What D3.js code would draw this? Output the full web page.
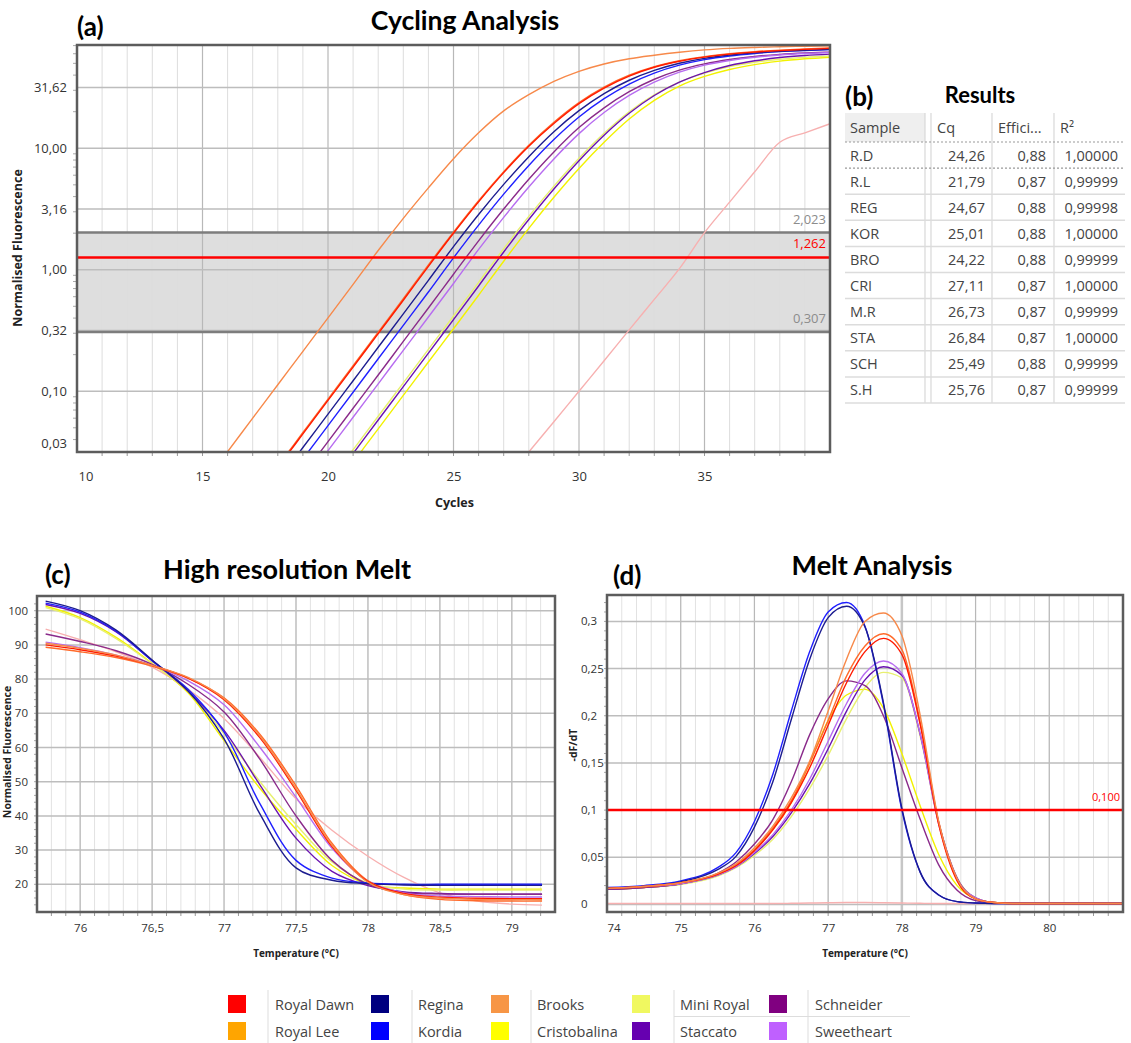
<!DOCTYPE html>
<html>
<head>
<meta charset="utf-8">
<script src="https://cdn.jsdelivr.net/npm/d3@7"></script>
<style>
  body { margin: 0; background: #fff; }
  text { font-family: "Open Sans", "Noto Sans", sans-serif; fill: #333; }
  .title { font-family: Lato, "Open Sans", sans-serif; font-weight: bold; fill: #000; }
  .axis-title { font-weight: bold; fill: #222; }
</style>
</head>
<body>
<svg id="fig" width="1131" height="1043"></svg>
<script>
// ---------- data: samples & results table (b) ----------
const samples = ["R.D", "R.L", "REG", "KOR", "BRO", "CRI", "M.R", "STA", "SCH", "S.H"];
const cqValues = ["24,26", "21,79", "24,67", "25,01", "24,22", "27,11", "26,73", "26,84", "25,49", "25,76"];
const efficiencies = ["0,88", "0,87", "0,88", "0,88", "0,88", "0,87", "0,87", "0,87", "0,88", "0,87"];
const rSquared = ["1,00000", "0,99999", "0,99998", "1,00000", "0,99999", "1,00000", "0,99999", "1,00000", "0,99999", "0,99999"];
const tableHeaders = ["Sample", "Cq", "Effici...", "R\u00b2"];
// line colours: 10 samples + no-template control
const lineColors = ["#ff1a00", "#f7894a", "#1c1c8f", "#1f1fff", "#ff6a2a", "#f2f200", "#e8f070", "#6a12b0", "#8a2a8a", "#b76cf0", "#f7b0b0"];

// ---------- data: cycling analysis (a) ----------
const cycleNumbers = [15, 16, 17, 18, 19, 20, 21, 22, 23, 24, 25, 26, 27, 28, 29, 30, 31, 32, 33, 34, 35, 36, 37, 38, 39, 40];
const ampRD  = [0.0035, 0.0067, 0.0126, 0.0236, 0.0445, 0.084, 0.158, 0.298, 0.561, 1.067, 1.995, 3.62, 6.3, 10.4, 16.0, 23.3, 31.3, 39.3, 46.4, 52.0, 56.3, 59.5, 61.9, 63.7, 65.2, 66.4];
const ampRL  = [0.0169, 0.0318, 0.060, 0.113, 0.213, 0.401, 0.757, 1.44, 2.65, 4.72, 8.2, 13.4, 20.3, 27.6, 35.5, 43.0, 49.4, 54.5, 58.3, 61.7, 64.5, 66.4, 67.6, 68.5, 69.2, 69.8];
const ampREG = [0.0026, 0.005, 0.0096, 0.0182, 0.0344, 0.0647, 0.122, 0.230, 0.433, 0.818, 1.55, 2.85, 5.04, 8.53, 13.7, 20.4, 28.2, 36.3, 43.8, 50.1, 55.0, 58.5, 61.0, 62.8, 64.1, 65.2];
const ampKOR = [0.0022, 0.0042, 0.0079, 0.0148, 0.0277, 0.0521, 0.098, 0.185, 0.348, 0.656, 1.253, 2.33, 4.19, 7.21, 11.8, 18.1, 25.6, 33.8, 41.6, 48.3, 53.6, 57.5, 60.3, 62.4, 63.8, 64.9];
const ampBRO = [0.0036, 0.0069, 0.013, 0.0242, 0.0457, 0.0862, 0.162, 0.306, 0.577, 1.096, 2.04, 3.70, 6.42, 10.6, 16.4, 23.8, 31.9, 39.9, 46.9, 52.5, 56.8, 60.0, 62.4, 64.2, 65.6, 66.8];
const ampCRI = [0.0006, 0.0011, 0.0021, 0.0039, 0.0073, 0.0138, 0.026, 0.049, 0.0923, 0.174, 0.327, 0.617, 1.175, 2.19, 3.95, 6.82, 11.2, 17.4, 24.8, 32.5, 39.0, 44.5, 48.8, 52.2, 54.5, 56.2];
const ampMR  = [0.0007, 0.0014, 0.0026, 0.0049, 0.0093, 0.0175, 0.033, 0.0622, 0.117, 0.221, 0.416, 0.787, 1.49, 2.75, 4.88, 8.28, 13.3, 20.0, 27.5, 35.0, 41.5, 47.0, 51.0, 54.0, 56.0, 57.5];
const ampSTA = [0.0007, 0.0013, 0.0024, 0.0046, 0.0087, 0.0163, 0.0307, 0.058, 0.109, 0.206, 0.388, 0.735, 1.40, 2.59, 4.62, 7.9, 12.8, 19.4, 27.2, 35.0, 42.0, 48.0, 52.5, 55.8, 58.0, 59.5];
const ampSCH = [0.0016, 0.003, 0.0057, 0.0108, 0.0204, 0.0385, 0.0724, 0.136, 0.257, 0.484, 0.918, 1.73, 3.16, 5.56, 9.33, 14.8, 21.5, 29.2, 37.0, 44.0, 49.5, 53.8, 57.0, 59.3, 60.8, 61.8];
const ampSH  = [0.0014, 0.0026, 0.0048, 0.0091, 0.0172, 0.0324, 0.0611, 0.115, 0.217, 0.408, 0.771, 1.47, 2.70, 4.80, 8.17, 13.2, 19.7, 27.2, 35.0, 42.3, 48.3, 52.8, 56.2, 58.6, 60.2, 61.3];
const ampNTC = [0.0003, 0.0003, 0.0003, 0.0003, 0.0003, 0.0003, 0.0003, 0.001, 0.0018, 0.0032, 0.0056, 0.010, 0.0178, 0.0316, 0.056, 0.100, 0.178, 0.32, 0.57, 1.02, 2.02, 3.6, 6.4, 11.2, 13.4, 15.9];
const cycleTicks = [10, 15, 20, 25, 30, 35];
const fluorTicks = [31.62, 10, 3.162, 1, 0.3162, 0.1, 0.0316];
const fluorTickLabels = ["31,62", "10,00", "3,16", "1,00", "0,32", "0,10", "0,03"];
const bandLimits = [0.307, 2.023];
const bandLabels = ["0,307", "2,023"];
const threshold = 1.262;
const thresholdLabel = "1,262";

// ---------- data: high resolution melt (c) ----------
const hrmTemps = [75.76, 76, 76.25, 76.5, 76.75, 77, 77.25, 77.5, 77.75, 78, 78.25, 78.5, 78.75, 79, 79.21];
const hrmRD  = [90.0, 88.6, 86.7, 84.0, 80.3, 74.0, 62.8, 47.5, 31.0, 20.8, 17.3, 16.2, 15.9, 15.8, 15.8];
const hrmRL  = [90.5, 89.0, 87.0, 84.0, 80.5, 74.3, 63.3, 48.0, 31.5, 20.6, 17.0, 16.0, 15.6, 15.5, 15.5];
const hrmREG = [102.8, 100.0, 94.3, 85.6, 76.5, 62.5, 40.5, 24.8, 21.2, 20.2, 19.8, 19.7, 19.7, 19.7, 19.7];
const hrmKOR = [102.2, 99.6, 94.0, 85.4, 77.0, 64.5, 43.5, 27.0, 21.8, 20.4, 20.0, 20.0, 20.0, 20.0, 20.0];
const hrmBRO = [89.3, 88.0, 86.3, 83.8, 80.3, 74.5, 63.8, 48.8, 32.0, 21.0, 17.0, 15.6, 15.2, 15.1, 15.1];
const hrmCRI = [101.3, 98.0, 92.2, 84.6, 76.0, 62.0, 48.0, 36.1, 25.5, 20.0, 18.9, 18.6, 18.6, 18.6, 18.6];
const hrmMR  = [100.9, 97.6, 91.8, 84.5, 76.5, 64.0, 50.0, 37.5, 26.5, 20.3, 18.6, 18.3, 18.3, 18.3, 18.3];
const hrmSTA = [101.8, 99.2, 93.8, 85.4, 76.5, 65.0, 49.0, 33.5, 23.8, 19.6, 17.8, 17.3, 17.1, 17.1, 17.1];
const hrmSCH = [93.2, 91.0, 88.3, 84.3, 78.5, 70.4, 56.5, 40.0, 27.0, 20.0, 17.6, 17.2, 17.1, 17.1, 17.1];
const hrmSH  = [90.8, 89.2, 87.0, 84.0, 79.5, 72.5, 60.0, 45.5, 30.5, 21.0, 17.5, 16.6, 16.4, 16.3, 16.3];
const hrmNTC = [94.6, 91.5, 88.0, 83.5, 77.0, 68.5, 57.0, 45.0, 35.8, 28.2, 22.0, 17.5, 15.2, 14.2, 13.9];
const hrmTempTicks = [76, 76.5, 77, 77.5, 78, 78.5, 79];
const hrmTempLabels = ["76", "76,5", "77", "77,5", "78", "78,5", "79"];
const hrmFluorTicks = [100, 90, 80, 70, 60, 50, 40, 30, 20];

// ---------- data: melt analysis (d) ----------
const dfTemps = [74, 74.5, 75, 75.5, 75.75, 76, 76.25, 76.5, 76.75, 77, 77.25, 77.5, 77.75, 78, 78.25, 78.5, 78.75, 79, 79.25, 79.5, 80, 81];
const dfRD  = [0.017, 0.019, 0.023, 0.032, 0.041, 0.057, 0.079, 0.108, 0.145, 0.190, 0.235, 0.268, 0.282, 0.265, 0.190, 0.085, 0.025, 0.006, 0.002, 0.001, 0.001, 0.001];
const dfRL  = [0.017, 0.019, 0.023, 0.033, 0.043, 0.060, 0.083, 0.113, 0.152, 0.205, 0.260, 0.300, 0.309, 0.285, 0.200, 0.088, 0.027, 0.006, 0.002, 0.001, 0.001, 0.001];
const dfREG = [0.017, 0.019, 0.024, 0.037, 0.051, 0.082, 0.130, 0.196, 0.260, 0.304, 0.316, 0.294, 0.214, 0.102, 0.034, 0.010, 0.003, 0.0015, 0.001, 0.001, 0.001, 0.001];
const dfKOR = [0.018, 0.020, 0.025, 0.039, 0.055, 0.088, 0.138, 0.205, 0.268, 0.310, 0.320, 0.295, 0.212, 0.100, 0.034, 0.010, 0.003, 0.0015, 0.001, 0.001, 0.001, 0.001];
const dfBRO = [0.017, 0.019, 0.023, 0.032, 0.042, 0.058, 0.081, 0.110, 0.150, 0.195, 0.242, 0.274, 0.287, 0.270, 0.193, 0.087, 0.026, 0.006, 0.002, 0.001, 0.001, 0.001];
const dfCRI = [0.016, 0.018, 0.022, 0.031, 0.041, 0.058, 0.080, 0.108, 0.150, 0.195, 0.222, 0.228, 0.208, 0.160, 0.104, 0.053, 0.020, 0.006, 0.002, 0.001, 0.001, 0.001];
const dfMR  = [0.016, 0.018, 0.021, 0.030, 0.039, 0.052, 0.069, 0.093, 0.123, 0.158, 0.197, 0.230, 0.246, 0.240, 0.178, 0.086, 0.028, 0.007, 0.002, 0.001, 0.001, 0.001];
const dfSTA = [0.016, 0.018, 0.022, 0.031, 0.040, 0.054, 0.072, 0.097, 0.128, 0.165, 0.205, 0.238, 0.252, 0.243, 0.180, 0.087, 0.028, 0.007, 0.002, 0.001, 0.001, 0.001];
const dfSCH = [0.016, 0.018, 0.022, 0.033, 0.045, 0.064, 0.090, 0.130, 0.180, 0.218, 0.237, 0.232, 0.200, 0.145, 0.090, 0.042, 0.015, 0.004, 0.0015, 0.001, 0.001, 0.001];
const dfSH  = [0.017, 0.019, 0.022, 0.031, 0.040, 0.055, 0.074, 0.100, 0.133, 0.173, 0.213, 0.245, 0.258, 0.245, 0.180, 0.085, 0.027, 0.007, 0.002, 0.001, 0.001, 0.001];
const dfNTC = [0.001, 0.001, 0.001, 0.001, 0.001, 0.001, 0.001, 0.0012, 0.0015, 0.0018, 0.002, 0.002, 0.0018, 0.0015, 0.0012, 0.001, 0.001, 0.001, 0.001, 0.001, 0.001, 0.001];
const dfTempTicks = [74, 75, 76, 77, 78, 79, 80];
const dfTicks = [0.3, 0.25, 0.2, 0.15, 0.1, 0.05, 0];
const dfTickLabels = ["0,3", "0,25", "0,2", "0,15", "0,1", "0,05", "0"];
const meltThreshold = 0.1;
const meltThresholdLabel = "0,100";

// ---------- data: legend ----------
const legendNames  = ["Royal Dawn", "Royal Lee", "Regina", "Kordia", "Brooks", "Cristobalina", "Mini Royal", "Staccato", "Schneider", "Sweetheart"];
const legendColors = ["#ff0000", "#ffa500", "#000080", "#0000ff", "#f79646", "#ffff00", "#f0f860", "#6600b0", "#800080", "#bf60ff"];

const ampSeries = [ampRD, ampRL, ampREG, ampKOR, ampBRO, ampCRI, ampMR, ampSTA, ampSCH, ampSH, ampNTC];
const hrmSeries = [hrmRD, hrmRL, hrmREG, hrmKOR, hrmBRO, hrmCRI, hrmMR, hrmSTA, hrmSCH, hrmSH, hrmNTC];
const dfSeries  = [dfRD, dfRL, dfREG, dfKOR, dfBRO, dfCRI, dfMR, dfSTA, dfSCH, dfSH, dfNTC];
// drawing order (back to front)
const drawOrder = [10, 5, 6, 7, 8, 9, 3, 2, 4, 0, 1];

const svg = d3.select("#fig");

// --- helpers ---
function clip(id, box) {
    svg.append("clipPath").attr("id", id).append("rect")
        .attr("x", box.left).attr("y", box.top)
        .attr("width", box.right - box.left).attr("height", box.bottom - box.top);
}
function vGrid(box, x, values, color, width) {
    svg.append("g").selectAll("line").data(values).join("line")
        .attr("x1", d => x(d)).attr("x2", d => x(d))
        .attr("y1", box.top).attr("y2", box.bottom)
        .attr("stroke", color).attr("stroke-width", width);
}
function hGrid(box, y, values, color, width) {
    svg.append("g").selectAll("line").data(values).join("line")
        .attr("x1", box.left).attr("x2", box.right)
        .attr("y1", d => y(d)).attr("y2", d => y(d))
        .attr("stroke", color).attr("stroke-width", width);
}
function frame(box) {
    svg.append("rect")
        .attr("x", box.left).attr("y", box.top)
        .attr("width", box.right - box.left).attr("height", box.bottom - box.top)
        .attr("fill", "none").attr("stroke", "#5c5c5c").attr("stroke-width", 2.5);
}
function minorTicksBottom(box, x, values, len) {
    svg.append("g").selectAll("line").data(values).join("line")
        .attr("x1", d => x(d)).attr("x2", d => x(d))
        .attr("y1", box.bottom).attr("y2", box.bottom + len)
        .attr("stroke", "#999").attr("stroke-width", 1);
}
function minorTicksLeft(box, y, values, len) {
    svg.append("g").selectAll("line").data(values).join("line")
        .attr("x1", box.left - len).attr("x2", box.left)
        .attr("y1", d => y(d)).attr("y2", d => y(d))
        .attr("stroke", "#aaa").attr("stroke-width", 1);
}
function curves(clipId, series, xs, x, y, curve) {
    const line = d3.line()
        .x((d, i) => x(xs[i]))
        .y(d => y(d))
        .curve(curve);
    svg.append("g").attr("clip-path", `url(#${clipId})`)
        .selectAll("path").data(drawOrder).join("path")
        .attr("d", k => line(series[k]))
        .attr("fill", "none")
        .attr("stroke", k => lineColors[k])
        .attr("stroke-width", 1.4);
}

// =================== (a) Cycling Analysis ===================
const boxA = { left: 77, right: 830, top: 45, bottom: 452 };
const xA = d3.scaleLinear().domain([10, 40]).range([boxA.left, boxA.right]);
const yA = d3.scaleLog().domain([0.0316, 70.8]).range([boxA.bottom, boxA.top]);
clip("clipA", boxA);

svg.append("rect")
    .attr("x", boxA.left).attr("width", boxA.right - boxA.left)
    .attr("y", yA(bandLimits[1])).attr("height", yA(bandLimits[0]) - yA(bandLimits[1]))
    .attr("fill", "#dedede");

vGrid(boxA, xA, d3.range(11, 40).filter(d => d % 5 !== 0), "#dddddd", 1);
vGrid(boxA, xA, [15, 20, 25, 30, 35], "#b8b8b8", 1.2);
hGrid(boxA, yA, fluorTicks.slice(0, 6), "#bdbdbd", 1.5);
hGrid(boxA, yA, bandLimits, "#7d7d7d", 2.5);
minorTicksBottom(boxA, xA, d3.range(11, 40), 4);
minorTicksLeft(boxA, yA, yA.ticks().filter(d => ![1, 10, 0.1].includes(d)), 4);

curves("clipA", ampSeries, cycleNumbers, xA, yA, d3.curveMonotoneX);

svg.append("line")
    .attr("x1", boxA.left).attr("x2", boxA.right)
    .attr("y1", yA(threshold)).attr("y2", yA(threshold))
    .attr("stroke", "#ff0000").attr("stroke-width", 2.5);

svg.selectAll(".band-label").data(bandLimits).join("text")
    .attr("x", boxA.right - 4).attr("y", d => yA(d) - 9)
    .attr("text-anchor", "end").attr("font-size", 13)
    .style("fill", "#8c8c8c")
    .text((d, i) => bandLabels[i]);
svg.append("text")
    .attr("x", boxA.right - 4).attr("y", yA(threshold) - 9)
    .attr("text-anchor", "end").attr("font-size", 13)
    .style("fill", "#ff0000")
    .text(thresholdLabel);

frame(boxA);

// axes (a)
const axA = svg.append("g")
    .attr("transform", `translate(0,${boxA.bottom})`)
    .call(d3.axisBottom(xA).tickValues(cycleTicks).tickFormat(d3.format("d")).tickSize(0).tickPadding(20));
axA.select(".domain").remove();
axA.selectAll("text").attr("font-size", 13).style("fill", "#333").attr("font-family", null);
axA.selectAll(".tick").filter(d => d === 10).select("text").attr("text-anchor", "start").attr("x", 1);

const ayA = svg.append("g")
    .attr("transform", `translate(${boxA.left},0)`)
    .call(d3.axisLeft(yA).tickValues(fluorTicks).tickFormat((d, i) => fluorTickLabels[i]).tickSize(0).tickPadding(10));
ayA.select(".domain").remove();
ayA.selectAll("text").attr("font-size", 13).style("fill", "#333").attr("font-family", null);
ayA.selectAll(".tick").filter(d => d === 0.0316).select("text").attr("y", -9);

svg.append("text").attr("class", "axis-title")
    .attr("x", (boxA.left + boxA.right) / 2 + 1).attr("y", 507)
    .attr("text-anchor", "middle").attr("font-size", 12.5).text("Cycles");
svg.append("text").attr("class", "axis-title")
    .attr("transform", "translate(22,248) rotate(-90)")
    .attr("text-anchor", "middle").attr("font-size", 12.5).text("Normalised Fluorescence");

svg.append("text").attr("class", "title").attr("x", 77).attr("y", 36).attr("font-size", 26).text("(a)");
svg.append("text").attr("class", "title").attr("x", 465).attr("y", 30).attr("text-anchor", "middle").attr("font-size", 26.5).text("Cycling Analysis");

// =================== (b) Results table ===================
svg.append("text").attr("class", "title").attr("x", 845).attr("y", 106).attr("font-size", 26).text("(b)");
svg.append("text").attr("class", "title").attr("x", 980).attr("y", 103).attr("text-anchor", "middle").attr("font-size", 22).text("Results");

const tb = { left: 845, right: 1125, top: 113, header: 29, row: 26.1 };
const colEdges = [845, 925, 931, 992, 1054];
svg.append("rect").attr("x", tb.left).attr("y", tb.top).attr("width", colEdges[1] - tb.left).attr("height", tb.header).attr("fill", "#efefef");
const tableBottom = tb.top + tb.header + samples.length * tb.row;
svg.append("g").selectAll("line").data(colEdges.slice(1)).join("line")
    .attr("x1", d => d).attr("x2", d => d)
    .attr("y1", tb.top).attr("y2", tableBottom)
    .attr("stroke", "#d8d8d8").attr("stroke-width", 1.2);
svg.append("g").selectAll("line").data(d3.range(2, samples.length + 1)).join("line")
    .attr("x1", tb.left).attr("x2", tb.right)
    .attr("y1", i => tb.top + tb.header + i * tb.row).attr("y2", i => tb.top + tb.header + i * tb.row)
    .attr("stroke", "#dcdcdc").attr("stroke-width", 1.5);
svg.append("g").selectAll("line").data([0, 1]).join("line")
    .attr("x1", tb.left).attr("x2", tb.right)
    .attr("y1", i => tb.top + tb.header + i * tb.row).attr("y2", i => tb.top + tb.header + i * tb.row)
    .attr("stroke", "#999").attr("stroke-width", 1.2).attr("stroke-dasharray", "2,2");

const headerX = [850, 937, 998, 1060];
svg.append("g").selectAll("text").data(tableHeaders).join("text")
    .attr("x", (d, i) => headerX[i]).attr("y", tb.top + 20)
    .attr("font-size", 14.5).style("fill", "#444").text(d => d);

const rowsG = svg.append("g").selectAll("g").data(samples).join("g")
    .attr("transform", (d, i) => `translate(0,${tb.top + tb.header + i * tb.row + 18.5})`);
rowsG.append("text").attr("x", 850).attr("font-size", 14.5).style("fill", "#444").text(d => d);
rowsG.append("text").attr("x", 985).attr("text-anchor", "end").attr("font-size", 14.5).style("fill", "#444").text((d, i) => cqValues[i]);
rowsG.append("text").attr("x", 1046).attr("text-anchor", "end").attr("font-size", 14.5).style("fill", "#444").text((d, i) => efficiencies[i]);
rowsG.append("text").attr("x", 1118).attr("text-anchor", "end").attr("font-size", 14.5).style("fill", "#444").text((d, i) => rSquared[i]);

// =================== (c) High resolution Melt ===================
const boxC = { left: 37, right: 555, top: 596, bottom: 912 };
const xC = d3.scaleLinear().domain([75.7, 79.3]).range([boxC.left, boxC.right]);
const yC = d3.scaleLinear().domain([11.9, 104.3]).range([boxC.bottom, boxC.top]);
clip("clipC", boxC);

vGrid(boxC, xC, d3.range(758, 793).map(d => d / 10), "#e2e2e2", 1);
vGrid(boxC, xC, hrmTempTicks, "#b8b8b8", 1.2);
hGrid(boxC, yC, hrmFluorTicks, "#bdbdbd", 1.5);
minorTicksBottom(boxC, xC, d3.range(758, 793).map(d => d / 10), 4);
minorTicksLeft(boxC, yC, d3.range(14, 104, 2), 3);
curves("clipC", hrmSeries, hrmTemps, xC, yC, d3.curveCatmullRom.alpha(0.5));
frame(boxC);

const axC = svg.append("g")
    .attr("transform", `translate(0,${boxC.bottom})`)
    .call(d3.axisBottom(xC).tickValues(hrmTempTicks).tickFormat((d, i) => hrmTempLabels[i]).tickSize(0).tickPadding(12));
axC.select(".domain").remove();
axC.selectAll("text").attr("font-size", 11.5).style("fill", "#333").attr("font-family", null);

const ayC = svg.append("g")
    .attr("transform", `translate(${boxC.left},0)`)
    .call(d3.axisLeft(yC).tickValues(hrmFluorTicks).tickFormat(d3.format("d")).tickSize(0).tickPadding(9));
ayC.select(".domain").remove();
ayC.selectAll("text").attr("font-size", 11.5).style("fill", "#333").attr("font-family", null);

svg.append("text").attr("class", "axis-title")
    .attr("x", 296).attr("y", 957).attr("text-anchor", "middle").attr("font-size", 10).text("Temperature (\u00b0C)");
svg.append("text").attr("class", "axis-title")
    .attr("transform", "translate(11,752) rotate(-90)")
    .attr("text-anchor", "middle").attr("font-size", 10.5).text("Normalised Fluorescence");
svg.append("text").attr("class", "title").attr("x", 45).attr("y", 584).attr("font-size", 26).text("(c)");
svg.append("text").attr("class", "title").attr("x", 287).attr("y", 579).attr("text-anchor", "middle").attr("font-size", 27).text("High resolution Melt");

// =================== (d) Melt Analysis ===================
const boxD = { left: 607, right: 1123, top: 595, bottom: 912 };
const xD = d3.scaleLinear().domain([74, 81]).range([boxD.left, boxD.right]);
const yD = d3.scaleLinear().domain([-0.008, 0.328]).range([boxD.bottom, boxD.top]);
clip("clipD", boxD);

vGrid(boxD, xD, d3.range(371, 405).map(d => d / 5), "#e2e2e2", 1);
vGrid(boxD, xD, dfTempTicks.slice(1), "#b8b8b8", 1.2);
vGrid(boxD, xD, [78], "#c6c6c6", 2.5);
hGrid(boxD, yD, dfTicks, "#bdbdbd", 1.5);
minorTicksBottom(boxD, xD, d3.range(371, 405).map(d => d / 5), 4);
minorTicksLeft(boxD, yD, d3.range(1, 33).map(d => d / 100), 3);
curves("clipD", dfSeries, dfTemps, xD, yD, d3.curveMonotoneX);

svg.append("line")
    .attr("x1", boxD.left).attr("x2", boxD.right)
    .attr("y1", yD(meltThreshold)).attr("y2", yD(meltThreshold))
    .attr("stroke", "#ff0000").attr("stroke-width", 2.5);
svg.append("text")
    .attr("x", boxD.right - 3).attr("y", yD(meltThreshold) - 9)
    .attr("text-anchor", "end").attr("font-size", 11).style("fill", "#ff0000")
    .text(meltThresholdLabel);
frame(boxD);

const axD = svg.append("g")
    .attr("transform", `translate(0,${boxD.bottom})`)
    .call(d3.axisBottom(xD).tickValues(dfTempTicks).tickFormat(d3.format("d")).tickSize(0).tickPadding(12));
axD.select(".domain").remove();
axD.selectAll("text").attr("font-size", 11.5).style("fill", "#333").attr("font-family", null);
axD.selectAll(".tick").filter(d => d === 74).select("text").attr("text-anchor", "start").attr("x", 0);

svg.append("g").selectAll("text").data(dfTicks).join("text")
    .attr("x", 581).attr("y", d => yD(d)).attr("dy", "0.35em")
    .attr("font-size", 11.5).style("fill", "#333")
    .text((d, i) => dfTickLabels[i]);

svg.append("text").attr("class", "axis-title")
    .attr("x", 865).attr("y", 957).attr("text-anchor", "middle").attr("font-size", 10).text("Temperature (\u00b0C)");
svg.append("text").attr("class", "axis-title")
    .attr("transform", "translate(577,745) rotate(-90)")
    .attr("text-anchor", "middle").attr("font-size", 10.5).text("-dF/dT");
svg.append("text").attr("class", "title").attr("x", 613).attr("y", 585).attr("font-size", 26).text("(d)");
svg.append("text").attr("class", "title").attr("x", 872).attr("y", 575).attr("text-anchor", "middle").attr("font-size", 27).text("Melt Analysis");

// =================== legend ===================
const legendSwatchX = [228, 371, 491, 632, 769];
const legendTextX = [275, 418, 537, 680, 815];
const legendSepX = [268, 412, 531, 674, 808];
svg.append("g").selectAll("line").data(legendSepX).join("line")
    .attr("x1", d => d).attr("x2", d => d).attr("y1", 990).attr("y2", 1043)
    .attr("stroke", "#dddddd").attr("stroke-width", 1);
svg.append("line").attr("x1", 674).attr("x2", 910).attr("y1", 1016.5).attr("y2", 1016.5)
    .attr("stroke", "#dddddd").attr("stroke-width", 1);
const legendItems = svg.append("g").selectAll("g").data(legendNames).join("g")
    .attr("transform", (d, i) => `translate(0,${i % 2 === 0 ? 995 : 1022})`);
legendItems.append("rect")
    .attr("x", (d, i) => legendSwatchX[Math.floor(i / 2)]).attr("y", 0)
    .attr("width", 18).attr("height", 18)
    .attr("fill", (d, i) => legendColors[i]);
legendItems.append("text")
    .attr("x", (d, i) => legendTextX[Math.floor(i / 2)]).attr("y", 14.5)
    .attr("font-size", 14.5).style("fill", "#444")
    .text(d => d);
</script>
</body>
</html>
